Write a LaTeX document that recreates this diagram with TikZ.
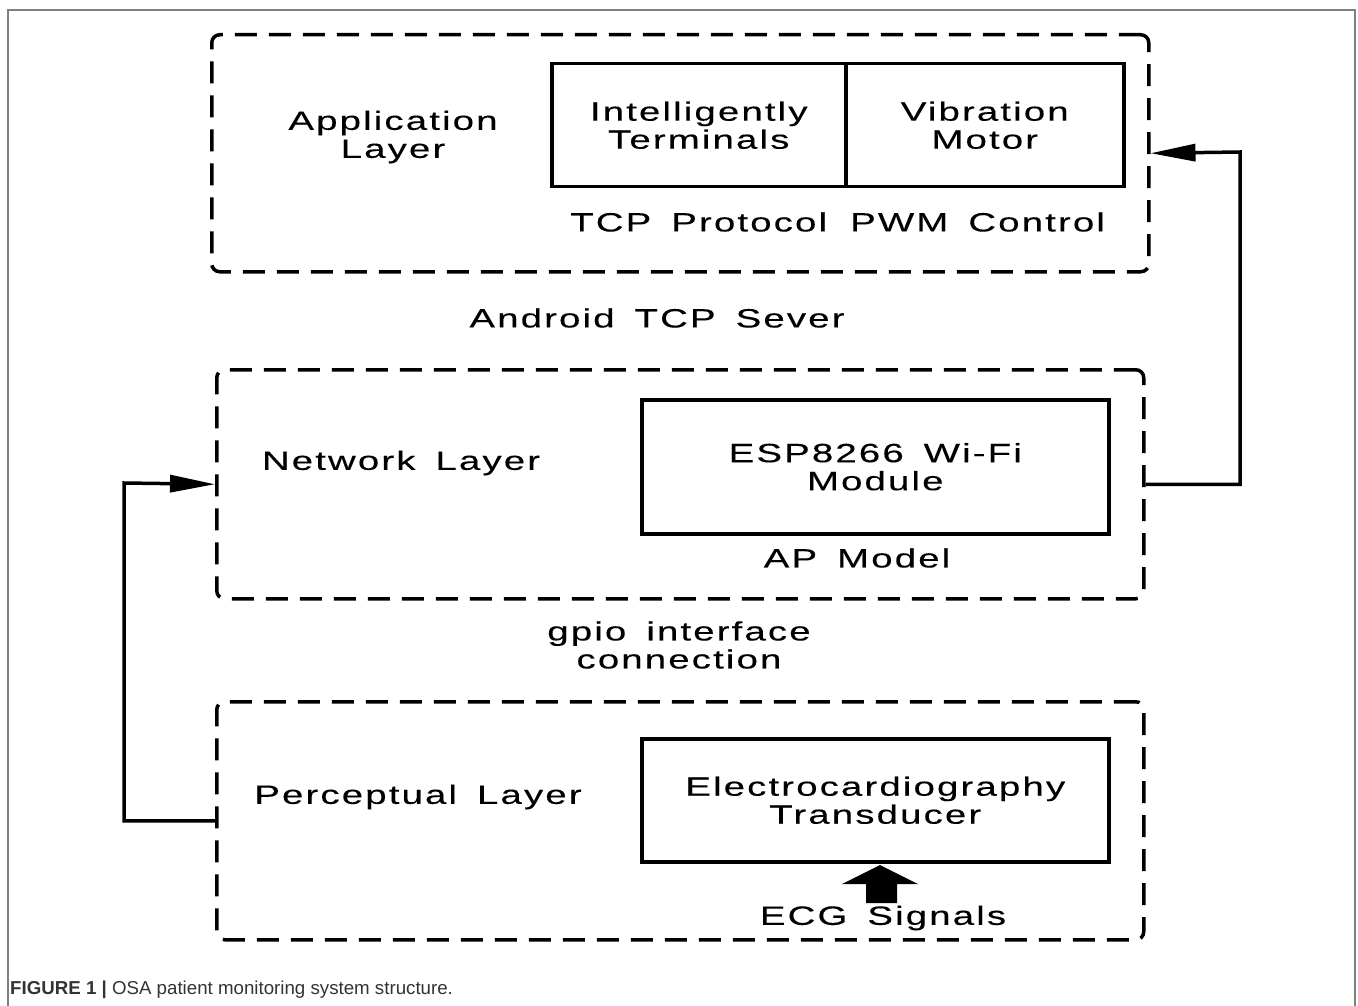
\documentclass[tikz,border=0pt]{standalone}
\usepackage{fontspec}
\setmainfont{Liberation Sans}
\newfontfamily\diagfont[FakeStretch=1.45,LetterSpace=8,FakeBold=0.2]{Liberation Sans}
\usetikzlibrary{arrows.meta}
\newcommand\diagtext{\diagfont\fontsize{26.5}{28}\selectfont\spaceskip=20pt\relax}
\begin{document}
\begin{tikzpicture}[x=1pt,y=-1pt,
  layer/.style={draw, line width=3.5pt, dash pattern=on 22pt off 12pt,
    rounded corners=8pt, inner sep=0pt},
  solidbox/.style={draw, line width=3.5pt, inner sep=0pt, align=center,
    font=\diagtext},
  lbl/.style={font=\diagtext, align=center, inner sep=0pt},
  conn/.style={line width=3.5pt, -{Triangle[length=45pt,width=17pt]}},
  frame/.style={draw=black!50, line width=2pt}
]
\useasboundingbox (0,0) rectangle (1358,1006);

% outer figure frame (open at the bottom)
\draw[frame] (8,1006) -- (8,10) -- (1355,10) -- (1355,1006);

% layers
\node[layer, minimum width=937pt, minimum height=237pt, anchor=north west] (app) at (210,33) {};
\node[layer, minimum width=927pt, minimum height=229pt, anchor=north west] (net) at (215,368) {};
\node[layer, minimum width=927pt, minimum height=238pt, anchor=north west] (per) at (215,700) {};

% application layer content
\node[lbl] (applbl) at (393,137) {Application\\Layer};
\node[solidbox, minimum width=294pt, minimum height=123pt, anchor=north west] (term) at (550,62) {Intelligently\\Terminals};
\node[solidbox, minimum width=278pt, minimum height=123pt, anchor=north west] (motor) at (844,62) {Vibration\\Motor};
\node[lbl, anchor=west] (tcp) at (570,222) {TCP Protocol};
\node[lbl, anchor=west] (pwm) at (850,222) {PWM Control};

\node[lbl] (android) at (657,318) {Android TCP Sever};

% network layer content
\node[lbl] (netlbl) at (401,463) {Network Layer};
\node[solidbox, minimum width=467pt, minimum height=134pt, anchor=north west] (esp) at (640,398) {ESP8266 Wi-Fi\\Module};
\node[lbl] (ap) at (857,558) {AP Model};

\node[lbl] (gpio) at (679,645) {gpio interface\\connection};

% perceptual layer content
\node[lbl] (perlbl) at (418,797) {Perceptual Layer};
\node[solidbox, minimum width=467pt, minimum height=123pt, anchor=north west] (ecgbox) at (640,737) {Electrocardiography\\Transducer};
\node[lbl] (ecg) at (883,918) {ECG Signals};

% signal input arrow
\fill (842,884) -- (880,865) -- (918,884) -- (897,884) -- (897,903) -- (866,903) -- (866,884) -- cycle;

% connectors between layers
\coordinate (rturn) at (1240,152);
\coordinate (lturn) at (124,483);
\draw[conn] (net.east) -| (rturn) -- (app.east);
\draw[conn] (per.west) -| (lturn) -- (net.west);

% caption
\node[anchor=base west, inner sep=0pt, text=black!80, font=\fontsize{18.7}{20}\selectfont] (cap) at (10,994)
  {\textbf{FIGURE 1 |} OSA patient monitoring system structure.};
\end{tikzpicture}
\end{document}
